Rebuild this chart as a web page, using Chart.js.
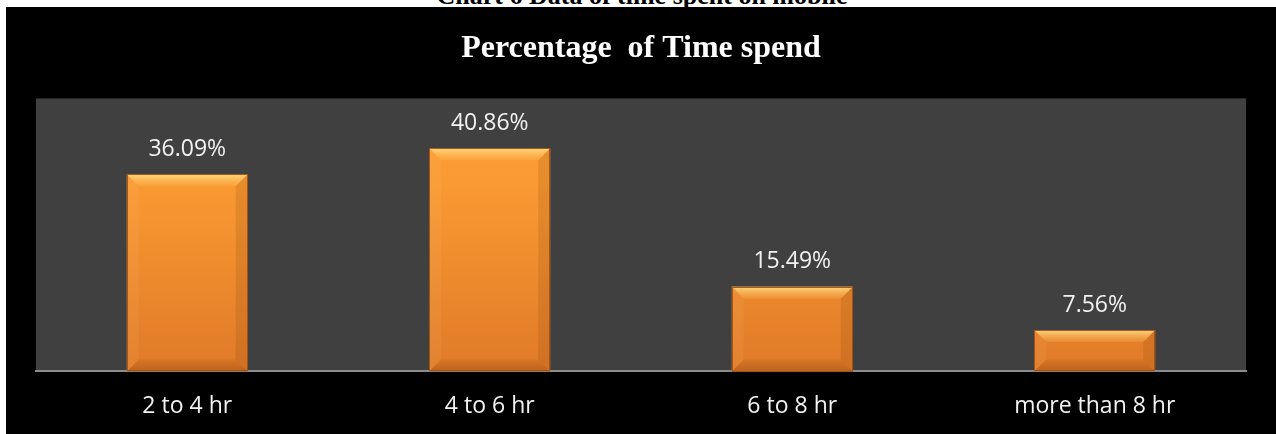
<!DOCTYPE html>
<html>
<head>
<meta charset="utf-8">
<script src="https://cdn.jsdelivr.net/npm/chart.js@4"></script>
<style>
  html, body { margin: 0; padding: 0; background: #fff; }
  body { width: 1276px; height: 434px; position: relative; overflow: hidden; }
  #caption {
    position: absolute; left: 0; width: 1276px; top: -17px;
    text-align: center; font: bold 26px "Liberation Serif", serif;
    line-height: 26px; color: #000; padding-left: 4px;
  }
  #wrap {
    position: absolute; left: 6px; top: 7px; width: 1270px; height: 427px;
    background: #000;
  }
</style>
</head>
<body>
<div id="caption">Chart 6 Data of time spent on mobile</div>
<div id="wrap"><canvas id="myChart"></canvas></div>
<script>
const ctx = document.getElementById("myChart").getContext("2d");

const labels = ["2 to 4 hr", "4 to 6 hr", "6 to 8 hr", "more than 8 hr"];
const percentages = [36.09, 40.86, 15.49, 7.56];
const yTicks = [0, 50];

// grey plot area behind the bars
const plotBackground = {
  id: "plotBackground",
  beforeDraw(chart) {
    const { ctx, chartArea } = chart;
    ctx.save();
    ctx.fillStyle = "#404040";
    ctx.fillRect(chartArea.left, chartArea.top, chartArea.width, chartArea.height);
    ctx.restore();
  },
};

// bevel look on the bars + value labels above them
const bevelAndLabels = {
  id: "bevelAndLabels",
  afterDatasetsDraw(chart) {
    const { ctx } = chart;
    const meta = chart.getDatasetMeta(0);
    meta.data.forEach((bar, i) => {
      const { x, y, base, width } = bar.getProps(["x", "y", "base", "width"], true);
      const l = x - width / 2;
      const r = x + width / 2;
      const t = y;
      const b = base;
      const s = Math.min(12, (b - t) / 2);
      ctx.save();

      let g = ctx.createLinearGradient(0, t, 0, t + s);
      g.addColorStop(0, "rgba(255,225,140,0.85)");
      g.addColorStop(1, "rgba(255,200,100,0.15)");
      ctx.fillStyle = g;
      ctx.beginPath();
      ctx.moveTo(l, t); ctx.lineTo(r, t); ctx.lineTo(r - s, t + s); ctx.lineTo(l + s, t + s);
      ctx.closePath(); ctx.fill();

      ctx.fillStyle = "rgba(255,220,160,0.08)";
      ctx.beginPath();
      ctx.moveTo(l, t); ctx.lineTo(l + s, t + s); ctx.lineTo(l + s, b - s); ctx.lineTo(l, b);
      ctx.closePath(); ctx.fill();

      ctx.fillStyle = "rgba(90,40,0,0.12)";
      ctx.beginPath();
      ctx.moveTo(r, t); ctx.lineTo(r - s, t + s); ctx.lineTo(r - s, b - s); ctx.lineTo(r, b);
      ctx.closePath(); ctx.fill();

      g = ctx.createLinearGradient(0, b - s, 0, b);
      g.addColorStop(0, "rgba(110,45,0,0.08)");
      g.addColorStop(1, "rgba(110,45,0,0.30)");
      ctx.fillStyle = g;
      ctx.beginPath();
      ctx.moveTo(l, b); ctx.lineTo(r, b); ctx.lineTo(r - s, b - s); ctx.lineTo(l + s, b - s);
      ctx.closePath(); ctx.fill();

      ctx.strokeStyle = "rgba(160,80,20,0.9)";
      ctx.lineWidth = 1;
      ctx.strokeRect(Math.round(l) + 0.5, Math.round(t) + 0.5, Math.round(width) - 1, Math.round(b - t) - 1);

      ctx.fillStyle = "#f2f2f2";
      ctx.font = '23px "Open Sans"';
      ctx.textAlign = "center";
      ctx.textBaseline = "middle";
      ctx.fillText(percentages[i].toFixed(2) + "%", x, t - 25);
      ctx.restore();
    });
  },
};

const data = {
  labels: labels,
  datasets: [
    {
      label: "Percentage of Time spend",
      data: percentages,
      backgroundColor: (c) => {
        const area = c.chart.chartArea;
        if (!area) return "#f28c2e";
        const g = c.chart.ctx.createLinearGradient(0, area.top, 0, area.bottom);
        g.addColorStop(0, "#ffa035");
        g.addColorStop(0.3, "#fa9a32");
        g.addColorStop(1, "#e07a28");
        return g;
      },
      borderWidth: 0,
      barPercentage: 0.4,
      categoryPercentage: 1,
    },
  ],
};

const config = {
  type: "bar",
  data: data,
  options: {
    responsive: true,
    maintainAspectRatio: false,
    animation: false,
    layout: { padding: { left: 30, right: 30, top: 0, bottom: -7 } },
    plugins: {
      legend: { display: false },
      tooltip: { enabled: false },
      title: {
        display: true,
        text: "Percentage  of Time spend",
        color: "#ffffff",
        font: { family: "Liberation Serif", size: 32, weight: "bold" },
        padding: { top: 23, bottom: 30 },
      },
    },
    scales: {
      x: {
        grid: { display: false, drawTicks: false },
        border: { display: true, color: "#8c8c8c", width: 2 },
        ticks: {
          color: "#f2f2f2",
          padding: 21,
          font: { family: "Open Sans", size: 23 },
          maxRotation: 0,
        },
      },
      y: {
        display: false,
        min: yTicks[0],
        max: yTicks[1],
      },
    },
  },
  plugins: [plotBackground, bevelAndLabels],
};

const myChart = new Chart(ctx, config);
</script>
</body>
</html>
